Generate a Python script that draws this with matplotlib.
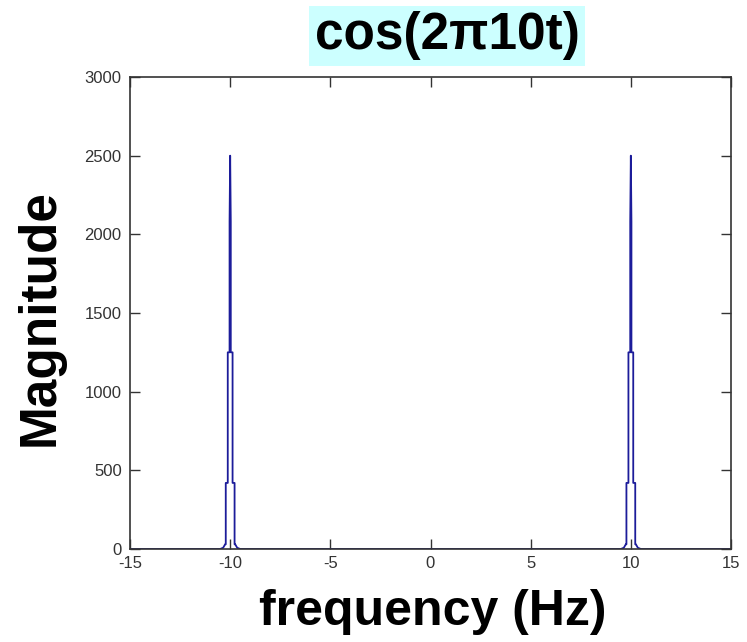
import matplotlib
matplotlib.use("Agg")
import matplotlib.pyplot as plt
import numpy as np

# Data
peak_centers = [-10, 10]
peak_offsets = [-0.5, -0.35, -0.25, -0.22, -0.22, -0.12, -0.12, -0.03, -0.03, 0.0,
                0.03, 0.03, 0.12, 0.12, 0.22, 0.22, 0.25, 0.35, 0.5]
peak_mags = [0, 8, 30, 30, 420, 420, 1250, 1250, 2080, 2500,
             2080, 1250, 1250, 420, 420, 30, 30, 8, 0]
freq_range = [-15, 15]
x_ticks = [-15, -10, -5, 0, 5, 10, 15]
y_ticks = [0, 500, 1000, 1500, 2000, 2500, 3000]

plt.rcParams['font.family'] = ['Liberation Sans', 'DejaVu Sans']

fig = plt.figure(figsize=(7.47, 6.42), dpi=100)
ax = fig.add_axes([130/747, 1-549/642, (731-130)/747, (549-77)/642])

xs = [freq_range[0]]
ys = [0]
for c in peak_centers:
    for o, m in zip(peak_offsets, peak_mags):
        xs.append(c + o)
        ys.append(m)
xs.append(freq_range[1])
ys.append(0)
ax.plot(xs, ys, color='#1c1c9a', lw=1.3)

ax.set_xlim(freq_range)
ax.set_ylim(0, 3000)
ax.set_xticks(x_ticks)
ax.set_xticklabels([str(v) for v in x_ticks])
ax.set_yticks(y_ticks)
ax.set_yticklabels([str(v) for v in y_ticks])
ax.tick_params(direction='in', length=7, width=1, top=True, right=True,
               labelsize=12, colors='#333333')
ax.tick_params(axis='x', pad=5)
ax.tick_params(axis='y', pad=6)
for s in ax.spines.values():
    s.set_linewidth(1.2)
    s.set_color('#333333')

fig.text(447/747, 1-36/642, 'cos(2π10t)', ha='center', va='center',
         fontsize=37, fontweight='bold',
         bbox=dict(facecolor='#ccffff', edgecolor='none', pad=4))
fig.text(40/747, 1-318/642, 'Magnitude', rotation=90, ha='center', va='center',
         fontsize=37, fontweight='bold')
fig.text(433/747, 1-612/642, 'frequency (Hz)', ha='center', va='center',
         fontsize=36, fontweight='bold')

fig.savefig('out.png', dpi=100)
